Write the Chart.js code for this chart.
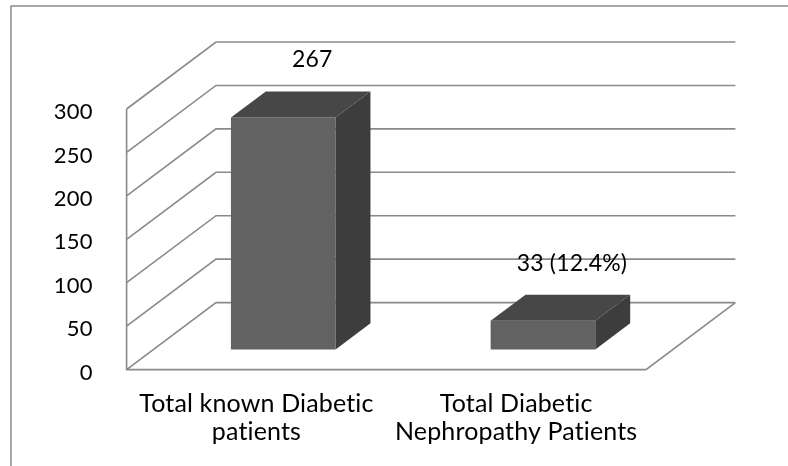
<!DOCTYPE html>
<html>
<head>
<meta charset="utf-8">
<script src="https://cdn.jsdelivr.net/npm/chart.js@4/dist/chart.umd.min.js"></script>
<style>
  html, body { margin: 0; padding: 0; background: #fff; }
  #wrap { width: 788px; height: 466px; position: relative; }
</style>
</head>
<body>
<div id="wrap"><canvas id="chart"></canvas></div>
<script>
// data
const categories = [
    ['Total known Diabetic', 'patients'],
    ['Total Diabetic', 'Nephropathy Patients']
];
const patientCounts = [267, 33];
const dataLabels = ['267', '33 (12.4%)'];
const yTicks = { min: 0, max: 300, step: 50 };

// 3d look
const depthX = 89.4;
const depthY = -67;
const barFront = 0.3;
const barDepth = 0.39;
const lineColor = '#8a8a8a';
const frontColor = '#626262';
const topColor = '#474747';
const sideColor = '#3d3d3d';

const threeD = {
    id: 'threeD',
    beforeDraw(chart) {
        const ctx = chart.ctx;
        // no "ti" ligatures, the original font has none
        ctx.letterSpacing = '0.15px';
        ctx.save();
        ctx.fillStyle = '#fff';
        ctx.fillRect(0, 0, chart.width, chart.height);
        ctx.strokeStyle = '#8a8a8a';
        ctx.lineWidth = 1.5;
        ctx.strokeRect(11, 6, chart.width + 20, chart.height + 20);
        ctx.restore();
    },
    beforeDatasetsDraw(chart) {
        const ctx = chart.ctx;
        const x = chart.scales.x;
        const y = chart.scales.y;
        const left = x.left, right = x.right;
        const y0 = y.getPixelForValue(yTicks.min);
        const yTop = y.getPixelForValue(yTicks.max);

        ctx.save();
        ctx.strokeStyle = lineColor;
        ctx.lineWidth = 1.6;
        ctx.beginPath();
        // left wall front edge
        ctx.moveTo(left, yTop);
        ctx.lineTo(left, y0);
        // floor
        ctx.lineTo(right, y0);
        ctx.lineTo(right + depthX, y0 + depthY);
        // gridlines on side wall and back wall
        for (let v = yTicks.min; v <= yTicks.max; v += yTicks.step) {
            const py = y.getPixelForValue(v);
            ctx.moveTo(left, py);
            ctx.lineTo(left + depthX, py + depthY);
            ctx.lineTo(right + depthX, py + depthY);
        }
        ctx.stroke();
        ctx.restore();

        ctx.save();
        ctx.translate(depthX * barFront, depthY * barFront);
    },
    afterDatasetsDraw(chart) {
        const ctx = chart.ctx;
        ctx.restore();

        const meta = chart.getDatasetMeta(0);
        const dx = depthX * barDepth, dy = depthY * barDepth;
        const sx = depthX * barFront, sy = depthY * barFront;

        ctx.save();
        meta.data.forEach((bar, i) => {
            const p = bar.getProps(['x', 'y', 'base', 'width'], true);
            const x1 = p.x - p.width / 2 + sx;
            const x2 = p.x + p.width / 2 + sx;
            const top = p.y + sy;
            const base = p.base + sy;

            ctx.fillStyle = topColor;
            ctx.beginPath();
            ctx.moveTo(x1, top);
            ctx.lineTo(x2, top);
            ctx.lineTo(x2 + dx, top + dy);
            ctx.lineTo(x1 + dx, top + dy);
            ctx.closePath();
            ctx.fill();

            ctx.fillStyle = sideColor;
            ctx.beginPath();
            ctx.moveTo(x2, top);
            ctx.lineTo(x2 + dx, top + dy);
            ctx.lineTo(x2 + dx, base + dy);
            ctx.lineTo(x2, base);
            ctx.closePath();
            ctx.fill();

            ctx.fillStyle = '#000';
            ctx.font = '23px Lato';
            ctx.textAlign = 'center';
            ctx.textBaseline = 'middle';
            ctx.fillText(dataLabels[i], p.x + sx + 29, top - 57.5);
        });
        ctx.restore();
    }
};

const ctx = document.getElementById('chart').getContext('2d');
const chart = new Chart(ctx, {
    type: 'bar',
    data: {
        labels: categories,
        datasets: [{
            data: patientCounts,
            backgroundColor: frontColor,
            borderWidth: 0,
            categoryPercentage: 1,
            barPercentage: 0.403,
            clip: false
        }]
    },
    options: {
        responsive: true,
        maintainAspectRatio: false,
        animation: false,
        layout: { padding: { left: 0, top: 109, right: 142, bottom: 0 } },
        plugins: {
            legend: { display: false },
            tooltip: { enabled: false }
        },
        scales: {
            x: {
                grid: { display: false },
                border: { display: false },
                ticks: {
                    color: '#000',
                    padding: 13,
                    maxRotation: 0,
                    font: { family: 'Lato', size: 25, lineHeight: 1.1 }
                },
                afterFit(scale) { scale.height = 96.4; }
            },
            y: {
                min: yTicks.min,
                max: yTicks.max,
                grid: { display: false },
                border: { display: false },
                ticks: {
                    stepSize: yTicks.step,
                    color: '#000',
                    padding: 26,
                    labelOffset: 3,
                    font: { family: 'Lato', size: 22 }
                },
                afterFit(scale) { scale.width = 126.6; }
            }
        }
    },
    plugins: [threeD]
});
</script>
</body>
</html>
